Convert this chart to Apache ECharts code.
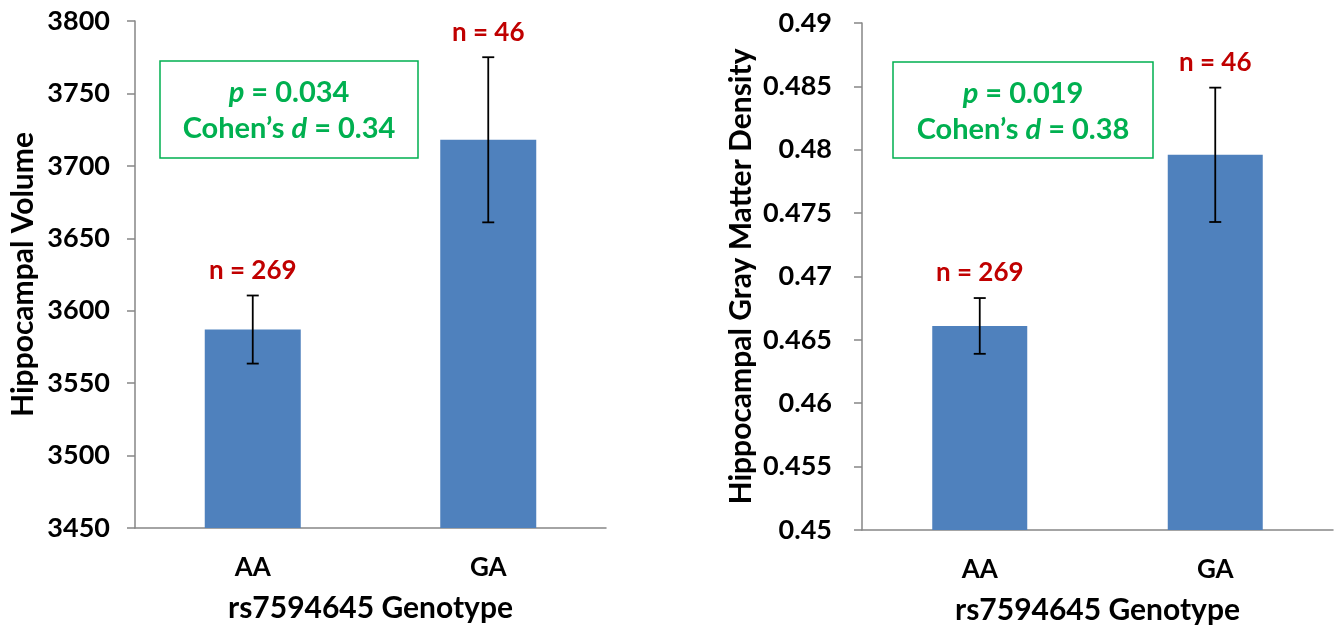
<!DOCTYPE html>
<html><head><meta charset="utf-8">
<script src="https://cdn.jsdelivr.net/npm/echarts@6/dist/echarts.min.js"></script>
<style>html,body{margin:0;padding:0;background:#fff}#c{width:1340px;height:631px}</style>
</head><body><div id="c"></div>
<script>
const categories = ['AA', 'GA'];
const volumeMean = [3587, 3718];
const volumeErr = [23.5, 57];
const densityMean = [0.4661, 0.4796];
const densityErr = [0.0022, 0.0053];
const nLabels = ['n = 269', 'n = 46'];
const volTicks = [3450, 3800, 50];
const denTicks = [0.45, 0.49, 0.005];
const volStats = ['0.034', '0.34'];
const denStats = ['0.019', '0.38'];

const FONT = 'Lato';
const chart = echarts.init(document.getElementById('c'));

function errSeries(xi, yi, means, errs) {
  return {
    type: 'custom', xAxisIndex: xi, yAxisIndex: yi, z: 10,
    data: means.map((m, i) => [i, m - errs[i], m + errs[i]]),
    renderItem: function (params, api) {
      const lo = api.coord([api.value(0), api.value(1)]);
      const hi = api.coord([api.value(0), api.value(2)]);
      const x = lo[0], cap = 6;
      const st = { stroke: '#000', lineWidth: 1.8 };
      return { type: 'group', children: [
        { type: 'line', shape: { x1: x, y1: hi[1], x2: x, y2: lo[1] }, style: st },
        { type: 'line', shape: { x1: x - cap, y1: hi[1], x2: x + cap, y2: hi[1] }, style: st },
        { type: 'line', shape: { x1: x - cap, y1: lo[1], x2: x + cap, y2: lo[1] }, style: st },
        { type: 'text', x: x, y: hi[1] - 12, style: { text: nLabels[params.dataIndex], fill: '#C00000',
          font: 'bold 26px ' + FONT, align: 'center', verticalAlign: 'bottom' } }
      ]};
    }
  };
}

function yAxis(gi, ticks, name, gap, dec, margin) {
  return {
    type: 'value', gridIndex: gi, min: ticks[0], max: ticks[1], interval: ticks[2],
    name: name, nameLocation: 'middle', nameGap: gap,
    nameTextStyle: { fontFamily: FONT, fontWeight: 'bold', fontSize: 30, color: '#000' },
    axisLine: { show: true, lineStyle: { color: '#868686', width: 1.5 } },
    axisTick: { show: true, length: 8, lineStyle: { color: '#868686', width: 1.5 } },
    splitLine: { show: false },
    axisLabel: { fontFamily: FONT, fontWeight: 'bold', fontSize: 27, color: '#000', margin: margin,
      formatter: v => dec ? String(+v.toFixed(3)) : String(v) }
  };
}
function xAxis(gi) {
  return {
    type: 'category', gridIndex: gi, data: categories,
    name: 'rs7594645 Genotype', nameLocation: 'middle', nameGap: 65,
    nameTextStyle: { fontFamily: FONT, fontWeight: 'bold', fontSize: 30, color: '#000' },
    axisLine: { lineStyle: { color: '#868686', width: 1.5 } },
    axisTick: { length: 8, lineStyle: { color: '#868686', width: 1.5 } },
    axisLabel: { fontFamily: FONT, fontWeight: 'bold', fontSize: 26, color: '#000', margin: 27 }
  };
}
function statBox(left, top, w, h, stats) {
  const cx = left + w / 2;
  const base = { fill: '#00B050', align: 'center', verticalAlign: 'middle' };
  const rich = { i: { fontStyle: 'italic', fontWeight: 'bold', fontSize: 29, fontFamily: FONT, fill: '#00B050' } };
  return { type: 'group', children: [
    { type: 'rect', shape: { x: left, y: top, width: w, height: h },
      style: { fill: 'none', stroke: '#00B050', lineWidth: 1.5 } },
    { type: 'text', x: cx, y: top + 32, style: Object.assign({}, base, {
      text: '{i|p} = ' + stats[0], rich: rich, font: 'bold 29px ' + FONT }) },
    { type: 'text', x: cx, y: top + 68, style: Object.assign({}, base, {
      text: 'Cohen\u2019s {i|d} = ' + stats[1], rich: rich, font: 'bold 29px ' + FONT }) }
  ]};
}

chart.setOption({
  animation: false,
  grid: [
    { left: 135, right: 734, top: 21, bottom: 103 },
    { left: 862, right: 7, top: 23, bottom: 101 }
  ],
  xAxis: [xAxis(0), xAxis(1)],
  yAxis: [yAxis(0, volTicks, 'Hippocampal Volume', 97, false, 25),
          yAxis(1, denTicks, 'Hippocampal Gray Matter Density', 106, true, 30)],
  series: [
    { type: 'bar', xAxisIndex: 0, yAxisIndex: 0, data: volumeMean, barWidth: 96,
      itemStyle: { color: '#4F81BD' } },
    { type: 'bar', xAxisIndex: 1, yAxisIndex: 1, data: densityMean, barWidth: 95,
      itemStyle: { color: '#4F81BD' } },
    errSeries(0, 0, volumeMean, volumeErr),
    errSeries(1, 1, densityMean, densityErr)
  ],
  graphic: [statBox(160, 61, 258, 97, volStats), statBox(893, 62, 260, 96, denStats)]
});
</script></body></html>
